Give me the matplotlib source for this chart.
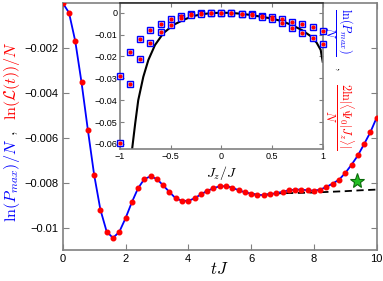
import matplotlib
matplotlib.use("Agg")
import matplotlib.pyplot as plt
import numpy as np

plt.rcParams['mathtext.fontset'] = 'cm'
plt.rcParams['font.family'] = ['Liberation Sans', 'DejaVu Sans']

# Main panel data
t_vals = [0.0, 0.2, 0.4, 0.6, 0.8, 1.0, 1.2, 1.4, 1.6, 1.8, 2.0, 2.2, 2.4, 2.6, 2.8,
          3.0, 3.2, 3.4, 3.6, 3.8, 4.0, 4.2, 4.4, 4.6, 4.8, 5.0, 5.2, 5.4, 5.6, 5.8,
          6.0, 6.2, 6.4, 6.6, 6.8, 7.0, 7.2, 7.4, 7.6, 7.8, 8.0, 8.2, 8.4, 8.6, 8.8,
          9.0, 9.2, 9.4, 9.6, 9.8, 10.0]
lnP = [0.0, -0.00043, -0.0017, -0.00354, -0.00564, -0.00764, -0.0092, -0.01018, -0.01046,
       -0.0102, -0.00959, -0.00888, -0.00825, -0.00784, -0.00772, -0.00784, -0.00812,
       -0.00842, -0.0087, -0.00881, -0.00881, -0.0087, -0.00852, -0.00837, -0.00825,
       -0.00816, -0.00816, -0.00822, -0.00834, -0.00843, -0.00849, -0.00855, -0.00855,
       -0.00852, -0.00847, -0.00841, -0.00834, -0.00831, -0.00831, -0.00834, -0.00836,
       -0.00831, -0.00819, -0.00804, -0.00787, -0.00757, -0.0072, -0.00679, -0.00628,
       -0.00575, -0.0051]
lnL = lnP  # red dots coincide with the blue line

t_dash = [6.0, 6.2, 6.4, 6.6, 6.8, 7.0, 7.5, 8.0, 8.5, 9.0, 9.5, 10.0]
y_dash = [-0.00849, -0.00855, -0.00855, -0.00851, -0.00848, -0.00847, -0.00846,
          -0.00844, -0.00841, -0.00838, -0.00834, -0.00831]

star_t = [9.38]
star_y = [-0.00791]

x_ticks = [0, 2, 4, 6, 8, 10]
y_ticks = [-0.01, -0.008, -0.006, -0.004, -0.002]
y_ticklabels = ['\u22120.01', '\u22120.008', '\u22120.006', '\u22120.004', '\u22120.002']

# Inset data
jz_vals = [-1.0, -0.9, -0.8, -0.7, -0.6, -0.5, -0.4, -0.3, -0.2, -0.1, 0.0,
           0.1, 0.2, 0.3, 0.4, 0.5, 0.6, 0.7, 0.8, 0.9, 1.0]
branch_a = [-0.029, -0.018, -0.012, -0.008, -0.0052, -0.003, -0.0016, -0.0008, -0.0003, 0.0, 0.0,
            0.0, -0.0004, -0.0008, -0.0013, -0.002, -0.003, -0.0042, -0.0052, -0.0067, -0.0082]
branch_b = [-0.0597, -0.0327, -0.0212, -0.014, -0.009, -0.0056, -0.0026, -0.0012, -0.0004, 0.0, 0.0,
            0.0, -0.0005, -0.001, -0.002, -0.003, -0.0045, -0.007, -0.0092, -0.0114, -0.0142]

jz_curve = [-0.89, -0.85, -0.82, -0.77, -0.72, -0.655, -0.573, -0.474, -0.375, -0.277, -0.178,
            -0.1, 0.0, 0.1, 0.2, 0.3, 0.4, 0.49, 0.594, 0.694, 0.793, 0.875, 0.94, 0.98, 1.0]
y_curve = [-0.066, -0.0506, -0.040, -0.0293, -0.0216, -0.0148, -0.0094, -0.0056, -0.0033, -0.0015,
           -0.0006, -0.0002, 0.0, -0.0001, -0.0005, -0.0011, -0.0019, -0.0026, -0.0038, -0.0056,
           -0.0079, -0.0105, -0.0137, -0.017, -0.0224]

in_xticks = [-1, -0.5, 0, 0.5, 1]
in_xticklabels = ['\u22121', '\u22120.5', '0', '0.5', '1']
in_yticks = [0, -0.01, -0.02, -0.03, -0.04, -0.05, -0.06]
in_yticklabels = ['0', '\u22120.01', '\u22120.02', '\u22120.03', '\u22120.04', '\u22120.05', '\u22120.06']

W, H = 383, 281
fig = plt.figure(figsize=(W / 100, H / 100), dpi=100)

def px_rect(l, r, t, b):
    return [l / W, (H - b) / H, (r - l) / W, (b - t) / H]

spine_c = '#808080'

ax = fig.add_axes(px_rect(62.7, 376.7, 3, 250))
ax.plot(t_dash, y_dash, color='black', lw=1.3, ls=(0, (4, 2.5)), zorder=2)
ax.plot(t_vals, lnP, color='#0000ff', lw=1.3, zorder=3)
ax.plot(t_vals, lnL, ls='none', marker='o', ms=3.3, color='#ff0000', mec='#ff0000', zorder=4)
ax.plot(star_t, star_y, ls='none', marker='*', ms=11, mfc='#22c022', mec='#0a6a0a', mew=0.8, zorder=5)
ax.set_xlim(0, 10)
ax.set_ylim(-0.011, 0)
ax.set_xticks(x_ticks)
ax.set_xticklabels([str(v) for v in x_ticks])
ax.set_yticks(y_ticks)
ax.set_yticklabels(y_ticklabels)
ax.tick_params(direction='in', length=4, width=0.8, color=spine_c, labelsize=8,
               top=True, right=True, pad=3)
for s in ax.spines.values():
    s.set_color(spine_c)
    s.set_linewidth(1.2)

fig.text(219.7 / W, (H - 269) / H, r'$tJ$', fontsize=12, ha='center', va='center')

# main y label in three colored pieces
fig.text(12 / W, (H - 180) / H, r'$\ln(P_{max})/N$', color='#0000ff', fontsize=11.5,
         rotation=90, ha='center', va='center')
fig.text(12 / W, (H - 133) / H, r'$,$', color='black', fontsize=11.5,
         rotation=90, ha='center', va='center')
fig.text(12 / W, (H - 81) / H, r'$\ln(\mathcal{L}(t))/N$', color='#ff0000', fontsize=11.5,
         rotation=90, ha='center', va='center')

# inset
axi = fig.add_axes(px_rect(120, 322.7, 3.3, 149))
axi.set_facecolor('white')
axi.plot(jz_curve, y_curve, color='black', lw=1.5, zorder=2)
for br in (branch_a, branch_b):
    axi.plot(jz_vals, br, ls='none', marker='s', ms=4.3, mfc='#e4eaff', mec='#0000ff', mew=1.0, zorder=3,
             clip_on=False)
    axi.plot(jz_vals, br, ls='none', marker='o', ms=2.0, color='#ff0000', zorder=4, clip_on=False)
axi.set_xlim(-1, 1)
axi.set_ylim(-0.0623, 0.0043)
axi.set_xticks(in_xticks)
axi.set_xticklabels(in_xticklabels)
axi.set_yticks(in_yticks)
axi.set_yticklabels(in_yticklabels)
axi.tick_params(direction='in', length=3, width=0.8, color=spine_c, labelsize=6.5,
                top=True, right=True, pad=2)
for s in axi.spines.values():
    s.set_color(spine_c)
    s.set_linewidth(1.2)
axi.spines['top'].set_color('#303030')
fig.text(221 / W, (H - 173) / H, r'$J_z/J$', fontsize=10, ha='center', va='center')

# inset right label
fig.text(339 / W, (H - 32) / H, r'$\dfrac{\ln(P_{max})}{N}$', color='#0000ff', fontsize=8.8,
         rotation=270, ha='center', va='center')
fig.text(339 / W, (H - 68) / H, r'$,$', color='black', fontsize=8.5,
         rotation=270, ha='center', va='center')
fig.text(339 / W, (H - 116) / H, r'$\dfrac{2\ln|\langle\Psi_0|J_z\rangle|}{N}$', color='#ff0000',
         fontsize=8.8, rotation=270, ha='center', va='center')

fig.savefig('out.png', dpi=100)
